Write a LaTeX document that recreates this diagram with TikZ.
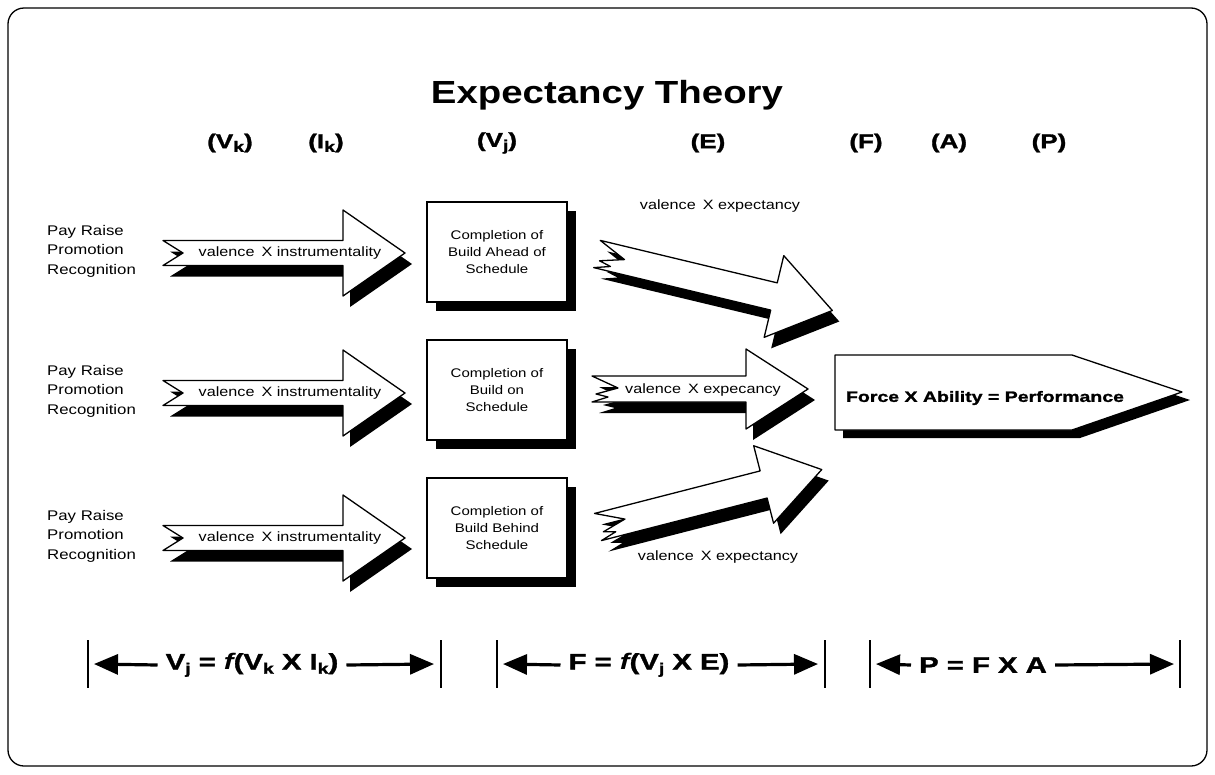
\documentclass[tikz,border=0pt]{standalone}
\usepackage{fontspec}
\setmainfont{Liberation Sans}
\newfontfamily\lab{Liberation Sans}[FakeStretch=1.2]
\newfontfamily\hvy{Liberation Sans}[FakeStretch=1.3, BoldFeatures={FakeBold=1.5}]
\usetikzlibrary{arrows.meta,shadows}

% lowered index letter used in the formulas
\newcommand\sbk[1]{\raisebox{-0.35ex}{\fontsize{15}{15}\selectfont #1}}

% block arrow: length, head length, body half width, head half width, tail zigzag
\tikzset{
  pics/blockarrow/.style n args={5}{code={
    \path[pic actions] (0,-#3) -- ({#1-#2},-#3) -- ({#1-#2},-#4) -- (#1,0)
      -- ({#1-#2},#4) -- ({#1-#2},#3) -- (0,#3) #5 -- cycle;
  }},
}
% black shadow first, white arrow on top
\newcommand\shadowarrow[3]{%
  \pic[fill=black, rotate=#2] at ([shift={(7,11)}]#1) {blockarrow=#3};
  \pic[fill=white, draw=black, line width=1.3pt, line join=round, rotate=#2] at (#1) {blockarrow=#3};
}

\begin{document}
\begin{tikzpicture}[x=1pt,y=-1pt,
  lbl/.style={anchor=west, align=left, inner sep=0pt, font=\lab\fontsize{14}{19.5}\selectfont},
  cbox/.style={draw, line width=1.4pt, fill=white, minimum width=140pt, minimum height=100pt,
    align=center, font=\lab\fontsize{12.5}{17}\selectfont,
    drop shadow={shadow xshift=9pt, shadow yshift=-9pt, fill=black, opacity=1}},
  atext/.style={inner sep=0pt, font=\lab\fontsize{13.5}{15}\selectfont},
  hdr/.style={inner sep=0pt, font=\hvy\bfseries\fontsize{20}{22}\selectfont},
  frm/.style={inner sep=8pt, font=\hvy\bfseries\fontsize{22.5}{24}\selectfont},
  dim/.style={line width=3.2pt, -{Triangle[length=24pt,width=20pt]}},
  sepbar/.style={line width=1.5pt},
]
\useasboundingbox (0,0) rectangle (1215,774);
\draw[rounded corners=16pt, line width=1.3pt] (8,8) rectangle (1207,766);

\node[font=\lab\bfseries\fontsize{32}{36}\selectfont] (title) at (607,95) {Expectancy Theory};

% column headers
\node[hdr] (hVk) at (230,143) {(V\sbk{k})};
\node[hdr] (hIk) at (326,143) {(I\sbk{k})};
\node[hdr] (hVj) at (497,143) {(V\sbk{j})};
\node[hdr] (hE)  at (708,143) {(E)};
\node[hdr] (hF)  at (866,143) {(F)};
\node[hdr] (hA)  at (949,143) {(A)};
\node[hdr] (hP)  at (1049,143) {(P)};

% the three outcome rows
\foreach \r/\dy in {1/0, 2/140, 3/285}{
  \node[lbl] (out\r) at (47,{251+\dy}) {Pay Raise\\Promotion\\Recognition};
  \shadowarrow{163,{253+\dy}}{0}{{242}{62}{12.5}{43}{-- (20,0)}}
  \node[atext] (vi\r) at (290,{253+\dy}) {valence\hspace{7pt}X instrumentality};
}

\node[cbox] (b1) at (497,252) {Completion of\\Build Ahead of\\Schedule};
\node[cbox] (b2) at (497,390) {Completion of\\Build on\\Schedule};
\node[cbox] (b3) at (497,528) {Completion of\\Build Behind\\Schedule};

% expectancy arrows
\shadowarrow{597,254}{-13.5}{{242}{60}{14}{42}{-- (16,9) -- (4,6) -- (28,-1)}}
\shadowarrow{592,389}{0}{{216}{62}{13}{40}{-- (16,8) -- (4,5) -- (26,-1)}}
\shadowarrow{598,527}{14.4}{{231}{60}{14}{40}{-- (16,9) -- (4,6) -- (28,-1)}}
\node[atext] (ve1) at (720,206) {valence\hspace{7pt}X expectancy};
\node[atext] (ve2) at (703,390) {valence\hspace{7pt}X expecancy};
\node[atext] (ve3) at (718,557) {valence\hspace{7pt}X expectancy};

% performance block
\fill[black] (843,363) -- (1080,363) -- (1190,400) -- (1080,438) -- (843,438) -- cycle;
\filldraw[fill=white, draw=black, line width=1.3pt, line join=round]
  (835,355) -- (1072,355) -- (1182,392) -- (1072,430) -- (835,430) -- cycle;
\node[inner sep=0pt, font=\hvy\bfseries\fontsize{15}{17}\selectfont] (perf) at (985,398)
  {Force X Ability = Performance};

% formula brackets
\foreach \x in {88,441,497,825,870,1180}{\draw[sepbar] (\x,640) -- (\x,688);}
\coordinate (l1) at (94,664);  \coordinate (r1) at (434,664);
\coordinate (l2) at (503,664); \coordinate (r2) at (818,664);
\coordinate (l3) at (876,664); \coordinate (r3) at (1174,664);
\node[frm] (f1) at (252,665) {V\sbk{j} = {\itshape f}(V\sbk{k} X I\sbk{k})};
\node[frm] (f2) at (649,665) {F = {\itshape f}(V\sbk{j} X E)};
\node[frm] (f3) at (983,665) {P = F X A};
\foreach \i in {1,2,3}{
  \draw[dim] (f\i.west) -- (l\i);
  \draw[dim] (f\i.east) -- (r\i);
}
\end{tikzpicture}
\end{document}
